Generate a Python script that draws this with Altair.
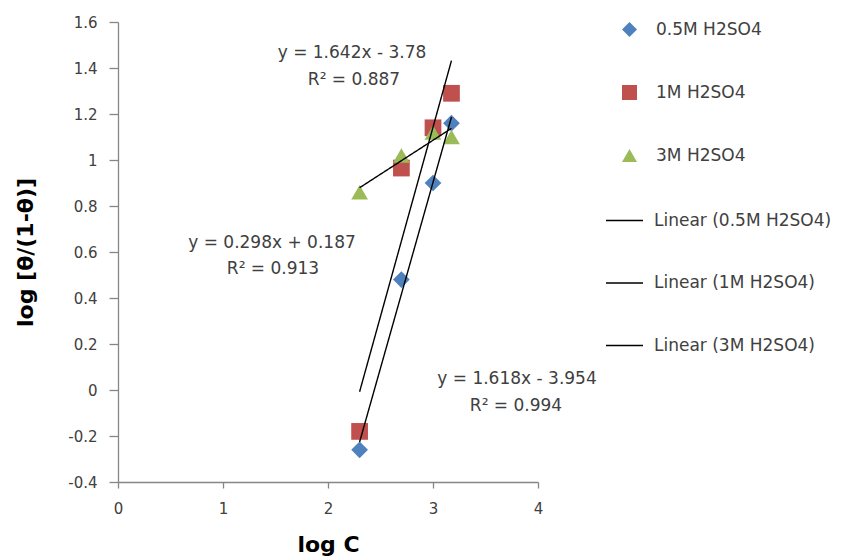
import altair as alt
import pandas as pd

# ---- data ----
log_c = [2.301, 2.699, 3.0, 3.176]
series_names = ["0.5M H2SO4", "1M H2SO4", "3M H2SO4"]
y_05 = [-0.26, 0.48, 0.90, 1.16]
y_1 = [-0.18, 0.965, 1.14, 1.29]
y_3 = [0.86, 1.02, 1.12, 1.10]
series_colors = ["#4F81BD", "#C0504D", "#9BBB59"]
series_shapes = ["diamond", "square", "triangle-up"]
line_names = ["Linear (0.5M H2SO4)", "Linear (1M H2SO4)", "Linear (3M H2SO4)"]
x_ticks = [0, 1, 2, 3, 4]
y_ticks = [-0.4, -0.2, 0.0, 0.2, 0.4, 0.6, 0.8, 1.0, 1.2, 1.4, 1.6]
annotations = [
    ["y = 1.642x - 3.78", "R² = 0.887"],
    ["y = 0.298x + 0.187", "R² = 0.913"],
    ["y = 1.618x - 3.954", "R² = 0.994"],
]

rows = []
for i, (name, ys) in enumerate(zip(series_names, [y_05, y_1, y_3])):
    for xv, yv in zip(log_c, ys):
        rows.append({"logC": xv, "val": yv, "series": name, "k": i})
df = pd.DataFrame(rows)

FONT = "DejaVu Sans"
TXT = "#404040"

x_enc = alt.X("logC:Q", scale=alt.Scale(domain=[0, 4], nice=False, zero=False),
              axis=alt.Axis(values=x_ticks, format="d", title="log C",
                            labelFlush=False,
                            titleX=210, titleY=69, titleBaseline="alphabetic",
                            titleAlign="center"))
y_enc = alt.Y("val:Q", scale=alt.Scale(domain=[-0.4, 1.6], nice=False, zero=False),
              axis=alt.Axis(values=y_ticks,
                            labelExpr="toString(round(datum.value*10)/10)",
                            labelFlush=False,
                            title="log [θ/(1-θ)]",
                            titleX=-93, titleY=230, titleAngle=-90,
                            titleBaseline="middle", titleAlign="center"))

pt_legend = alt.Legend(orient="none", legendX=503, legendY=-1,
                       symbolSize=225, rowPadding=45, labelOffset=18,
                       padding=0, labelLimit=300)

points = alt.Chart(df).mark_point(filled=True, opacity=1, size=280).encode(
    x=x_enc,
    y=y_enc,
    color=alt.Color("series:N", title=None,
                    scale=alt.Scale(domain=series_names, range=series_colors),
                    legend=pt_legend),
    shape=alt.Shape("series:N", title=None,
                    scale=alt.Scale(domain=series_names, range=series_shapes),
                    legend=pt_legend),
    order=alt.Order("k:Q"),
)

lines = alt.Chart(df).transform_regression(
    "logC", "val", groupby=["series"]
).transform_calculate(
    line="'Linear (' + datum.series + ')'"
).mark_line(color="black", strokeWidth=1.4).encode(
    x=alt.X("logC:Q"),
    y=alt.Y("val:Q"),
    detail="series:N",
    strokeDash=alt.StrokeDash("line:N", title=None,
                              scale=alt.Scale(domain=line_names, range=[[1, 0], [1, 0], [1, 0]]),
                              legend=alt.Legend(orient="none", legendX=487, legendY=179,
                                                symbolType="stroke", symbolSize=1369,
                                                symbolStrokeColor="black",
                                                symbolStrokeWidth=1.4,
                                                rowPadding=34.5, labelOffset=10,
                                                padding=0, labelLimit=300)),
)

ann_pos = [[(234, 31), (236, 58)], [(154, 221), (155, 247)], [(399, 357), (398, 384)]]
ann_layers = []
for texts, poss in zip(annotations, ann_pos):
    for t, (px, py) in zip(texts, poss):
        ann_layers.append(
            alt.Chart(pd.DataFrame({"t": [t]})).mark_text(
                font=FONT, fontSize=17, color=TXT, align="center", baseline="middle"
            ).encode(x=alt.value(px), y=alt.value(py), text="t:N")
        )

chart = alt.layer(points, lines, *ann_layers).resolve_scale(
    strokeDash="independent"
).properties(
    width=420, height=460,
    autosize=alt.AutoSizeParams(type="none"),
    padding={"left": 110, "top": 14, "right": 300, "bottom": 76},
).configure_view(stroke=None).configure_axis(
    grid=False, domainColor="#868686", tickColor="#868686", domainWidth=1.3,
    tickWidth=1.3, labelFont=FONT, labelFontSize=15, labelColor=TXT,
    titleFont=FONT, titleFontSize=22, titleFontWeight="bold", titleColor="#000000",
).configure_axisX(tickSize=6, labelPadding=13).configure_axisY(
    tickSize=9, labelPadding=12
).configure_legend(
    labelFont=FONT, labelFontSize=17, labelColor=TXT
)

chart.save("out.html", embed_options={"renderer": "svg", "actions": False})
